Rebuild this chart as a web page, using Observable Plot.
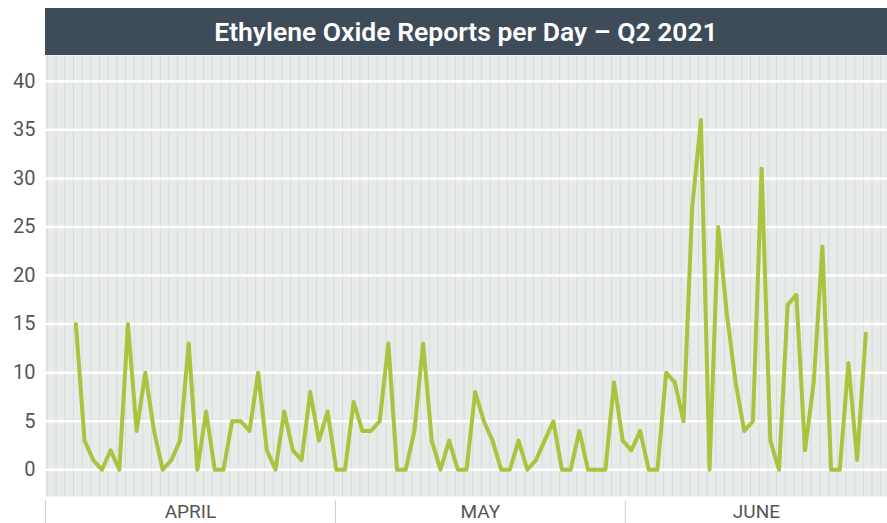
<!DOCTYPE html>
<html>
<head>
<meta charset="utf-8">
<script src="https://cdn.jsdelivr.net/npm/d3@7"></script>
<script src="https://cdn.jsdelivr.net/npm/@observablehq/plot@0.6"></script>
<style>
  html, body { margin: 0; padding: 0; background: #ffffff; }
  body { width: 887px; height: 523px; overflow: hidden; font-family: Roboto, "Noto Sans", sans-serif; }
  #title {
    position: absolute; left: 45px; top: 8px; width: 842px; height: 47px;
    background: #3e4c5a; color: #ffffff; font-family: Roboto, sans-serif;
    font-weight: 600; font-size: 26.5px; line-height: 47px; text-align: center;
  }
  #chart { position: absolute; left: 0; top: 55px; }
</style>
</head>
<body>
<div id="title">Ethylene Oxide Reports per Day – Q2 2021</div>
<div id="chart"></div>
<script>
// Reports per day (day index 0..91)
const reports = [15,3,1,0,2,0,15,4,10,4,0,1,3,13,0,6,0,0,5,5,4,10,2,0,6,2,1,8,3,6,
  0,0,7,4,4,5,13,0,0,4,13,3,0,3,0,0,8,5,3,0,0,3,0,1,3,5,0,0,4,0,0,0,9,3,2,4,0,0,
  10,9,5,27,36,0,25,16,9,4,5,31,3,0,17,18,2,9,23,0,0,11,1,14];
const yTicks = [0,5,10,15,20,25,30,35,40];
const months = ["APRIL","MAY","JUNE"];
const monthStart = [-3.5, 29.9, 63.3];
const monthEnd = [29.9, 63.3, 93.5];

const data = reports.map((v, i) => ({day: i, value: v}));
const dayLines = d3.range(-3, 94).map(k => k - 0.28);
const monthData = months.map((m, i) => ({month: m, start: monthStart[i], mid: (monthStart[i] + monthEnd[i]) / 2}));

const chart = Plot.plot({
  width: 887,
  height: 468,
  marginLeft: 45,
  marginRight: 0,
  marginTop: 0,
  marginBottom: 27,
  style: {fontFamily: "Roboto, sans-serif", background: "transparent", overflow: "visible"},
  x: {domain: [-3.5, 93.5], axis: null},
  y: {domain: [-2.75, 42.65], axis: null},
  marks: [
    Plot.frame({fill: "#e9eaea", stroke: null}),
    Plot.ruleX(dayLines, {stroke: "#d3ddd6", strokeWidth: 1}),
    Plot.ruleY(yTicks, {stroke: "#ffffff", strokeWidth: 2.5}),
    Plot.axisY({ticks: yTicks, tickSize: 0, tickPadding: 10, fontSize: 20, color: "#555555", label: null}),
    Plot.line(data, {x: "day", y: "value", stroke: "#a9c43e", strokeWidth: 4, strokeLinejoin: "round", strokeLinecap: "round"}),
    Plot.ruleX(monthData, {x: "start", y1: -3.2, y2: -5.6, stroke: "#cccccc", strokeWidth: 1}),
    Plot.text(monthData, {x: "mid", y: -4.3, text: "month", fontSize: 19, fill: "#555555"})
  ]
});
document.getElementById("chart").appendChild(chart);
</script>
</body>
</html>
